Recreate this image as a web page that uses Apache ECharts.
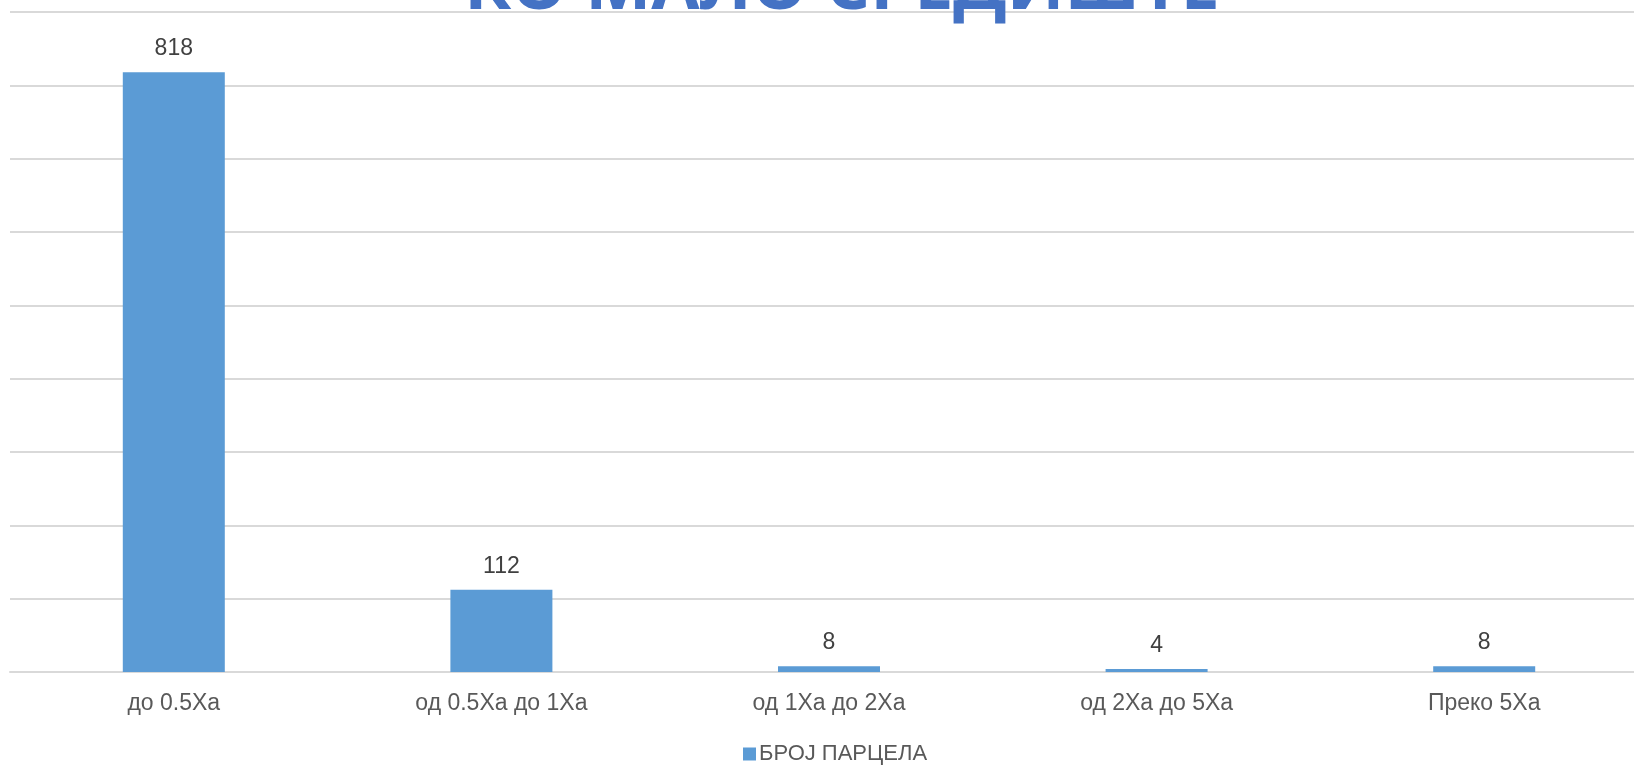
<!DOCTYPE html>
<html>
<head>
<meta charset="utf-8">
<script src="https://cdn.jsdelivr.net/npm/echarts@6/dist/echarts.min.js"></script>
<style>
html,body{margin:0;padding:0;background:#fff;overflow:hidden;width:1634px;height:765px;}
#chart{width:1664px;height:765px;}
</style>
</head>
<body>
<div id="chart"></div>
<script>
const titleText = 'КО МАЛО СРЕДИШТЕ';
const seriesName = 'БРОЈ ПАРЦЕЛА';
const categories = ['до 0.5Ха', 'од 0.5Ха до 1Ха', 'од 1Ха до 2Ха', 'од 2Ха до 5Ха', 'Преко 5Ха'];
const parcelCounts = [818, 112, 8, 4, 8];
const yMin = 0, yMax = 900, yStep = 100;

const chart = echarts.init(document.getElementById('chart'));
const fontFam = '"Liberation Sans", Arial, sans-serif';
chart.setOption({
  animation: false,
  backgroundColor: '#ffffff',
  title: {
    text: titleText,
    left: 837,
    textAlign: 'center',
    top: -51,
    textStyle: { color: '#4472C4', fontSize: 70, fontWeight: 'bold', fontFamily: '"Open Sans", sans-serif' }
  },
  legend: {
    data: [seriesName],
    top: 738,
    left: 738,
    itemWidth: 13,
    itemHeight: 13,
    icon: 'rect',
    itemGap: 6,
    textStyle: { color: '#595959', fontSize: 22, fontFamily: fontFam, padding: [0, 0, 0, -2] }
  },
  grid: { left: 10, top: 12, width: 1638, height: 660, containLabel: false, outerBoundsMode: 'none' },
  xAxis: {
    type: 'category',
    data: categories,
    axisLine: { show: true, lineStyle: { color: '#D9D9D9', width: 2 } },
    axisTick: { show: false },
    axisLabel: { color: '#595959', fontSize: 23, fontFamily: fontFam, margin: 20 }
  },
  yAxis: {
    type: 'value',
    min: yMin, max: yMax, interval: yStep,
    axisLabel: { show: false },
    axisLine: { show: false },
    axisTick: { show: false },
    splitLine: { lineStyle: { color: '#D9D9D9', width: 2 } }
  },
  series: [{
    name: seriesName,
    type: 'bar',
    data: parcelCounts,
    barWidth: 102,
    itemStyle: { color: '#5B9BD5' },
    label: {
      show: true,
      position: 'top',
      distance: 12,
      color: '#404040',
      fontSize: 23,
      fontFamily: fontFam
    }
  }]
});
</script>
</body>
</html>
